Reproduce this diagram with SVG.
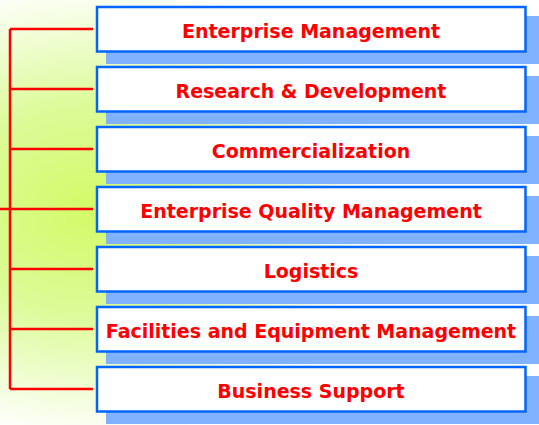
<svg xmlns="http://www.w3.org/2000/svg" width="539" height="425" viewBox="0 0 539 425">
<defs>
<radialGradient id="bg" gradientUnits="userSpaceOnUse" cx="90" cy="210" r="230" gradientTransform="translate(90 210) scale(1.3 1) translate(-90 -210)">
<stop offset="0" stop-color="#d2fb68"/>
<stop offset="0.45" stop-color="#dcfb98"/>
<stop offset="1" stop-color="#ffffff"/>
</radialGradient>
<style>
.shadow{fill:#80b2ff;}
.box{fill:#ffffff;stroke:#0066ff;stroke-width:2.5;}
.lbl{font-family:"DejaVu Sans",Verdana,sans-serif;font-weight:bold;font-size:19px;fill:#ff0000;text-anchor:middle;}
.wire{stroke:#ff0000;stroke-width:2.5;fill:none;}
</style>
</defs>
<rect x="0" y="0" width="539" height="425" fill="url(#bg)"/>
<g id="connectors">
<path class="wire" d="M10 29V389M0 209H10M10 29H93M10 89H93M10 149H93M10 209H93M10 269H93M10 329H93M10 389H93"/>
</g>
<g id="n1"><rect class="shadow" x="106" y="16" width="433" height="48"/><rect class="box" x="97" y="7" width="428.5" height="44.5"/><text class="lbl" x="311" y="38">Enterprise Management</text></g>
<g id="n2"><rect class="shadow" x="106" y="76" width="433" height="48"/><rect class="box" x="97" y="67" width="428.5" height="44.5"/><text class="lbl" x="311" y="98">Research &amp; Development</text></g>
<g id="n3"><rect class="shadow" x="106" y="136" width="433" height="48"/><rect class="box" x="97" y="127" width="428.5" height="44.5"/><text class="lbl" x="311" y="158">Commercialization</text></g>
<g id="n4"><rect class="shadow" x="106" y="196" width="433" height="48"/><rect class="box" x="97" y="187" width="428.5" height="44.5"/><text class="lbl" x="311" y="218">Enterprise Quality Management</text></g>
<g id="n5"><rect class="shadow" x="106" y="256" width="433" height="48"/><rect class="box" x="97" y="247" width="428.5" height="44.5"/><text class="lbl" x="311" y="278">Logistics</text></g>
<g id="n6"><rect class="shadow" x="106" y="316" width="433" height="48"/><rect class="box" x="97" y="307" width="428.5" height="44.5"/><text class="lbl" x="311" y="338">Facilities and Equipment Management</text></g>
<g id="n7"><rect class="shadow" x="106" y="376" width="433" height="48"/><rect class="box" x="97" y="367" width="428.5" height="44.5"/><text class="lbl" x="311" y="398">Business Support</text></g>
</svg>
